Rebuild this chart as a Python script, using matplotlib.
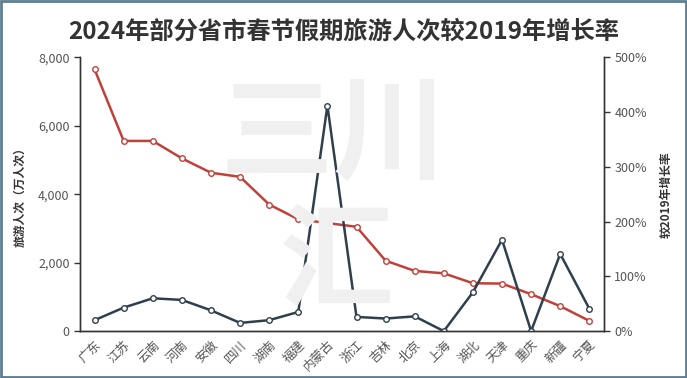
import matplotlib.pyplot as plt
from matplotlib.ticker import FuncFormatter
from matplotlib.patches import Rectangle

plt.rcParams['font.family'] = ['Noto Sans CJK SC', 'DejaVu Sans']

provinces = ["广东", "江苏", "云南", "河南", "安徽", "四川", "湖南", "福建", "内蒙古",
             "浙江", "吉林", "北京", "上海", "湖北", "天津", "重庆", "新疆", "宁夏"]
tourists = [7650, 5560, 5560, 5050, 4630, 4510, 3700, 3270, 3160,
            3050, 2060, 1760, 1690, 1400, 1390, 1080, 730, 300]
growth = [20, 43, 60, 57, 38, 15, 20, 35, 412,
          26, 23, 27, 0, 71, 167, 0, 141, 41]

RED = "#c0413a"
DARK = "#2f3f4c"
TXT = "#555555"

fig = plt.figure(figsize=(6.87, 3.78), dpi=100)
fig.patches.append(Rectangle((0.002, 0.003), 0.996, 0.994, transform=fig.transFigure,
                             fill=False, edgecolor="#5d7d93", linewidth=2))

# watermark
fig.text(0.485, 0.64, "三川", fontsize=82, fontweight="bold", color="#f0f0f0",
         ha="center", va="center", zorder=0)
fig.text(0.49, 0.30, "汇", fontsize=82, fontweight="bold", color="#f0f0f0",
         ha="center", va="center", zorder=0)

ax = fig.add_axes([0.1165, 0.124, 0.7625, 0.724])
ax.patch.set_alpha(0)
ax2 = ax.twinx()

x = range(len(provinces))
ax.plot(x, tourists, color=RED, lw=1.8, marker="o", ms=4, mfc="white", mec=RED, mew=1)
ax2.plot(x, growth, color=DARK, lw=1.8, marker="o", ms=4, mfc="white", mec=DARK, mew=1)

ax.set_xlim(-0.5, len(provinces) - 0.5)
ax.set_ylim(0, 8000)
ax.set_yticks([0, 2000, 4000, 6000, 8000])
ax.yaxis.set_major_formatter(FuncFormatter(lambda v, p: f"{int(v):,}"))
ax2.set_ylim(0, 500)
ax2.set_yticks([0, 100, 200, 300, 400, 500])
ax2.yaxis.set_major_formatter(FuncFormatter(lambda v, p: f"{int(v)}%"))

ax.set_xticks(list(x))
ax.set_xticklabels(provinces, rotation=45, ha="right", rotation_mode="anchor")

for a in (ax, ax2):
    a.spines["top"].set_visible(False)
    for s in ("left", "right", "bottom"):
        a.spines[s].set_color("#333333")
        a.spines[s].set_linewidth(1)
    a.tick_params(labelsize=9, colors=TXT, length=4, width=1)
ax.tick_params(axis="x", length=0, pad=5)
ax.tick_params(axis="both", color="#333333")
ax2.tick_params(axis="y", color="#333333")

ax.set_ylabel("旅游人次（万人次）", fontsize=8.5, color="#333333", fontweight="bold", labelpad=8)
ax2.set_ylabel("较2019年增长率", fontsize=8.5, color="#333333", fontweight="bold",
               rotation=90, labelpad=9)

fig.text(0.5, 0.915, "2024年部分省市春节假期旅游人次较2019年增长率", fontsize=17.5,
         fontweight="bold", color="#333333", ha="center", va="center")

fig.savefig("out.png", dpi=100)
